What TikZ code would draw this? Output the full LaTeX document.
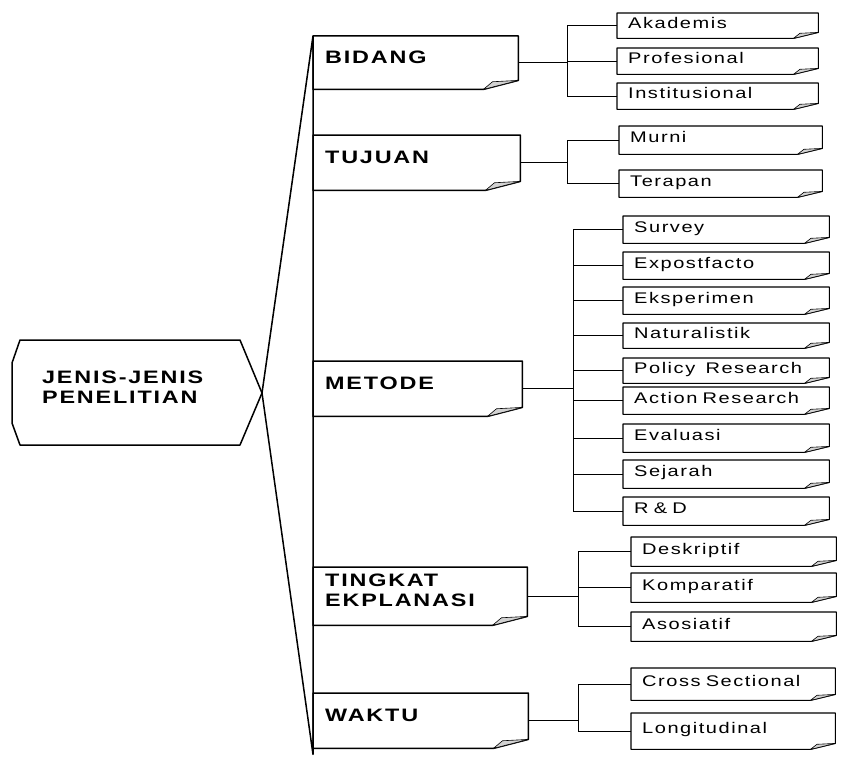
\documentclass[tikz,border=0pt]{standalone}
\usepackage{fontspec}
\newfontfamily\labelsans[FakeStretch=1.3,LetterSpace=10,WordSpace=1.6]{Liberation Sans}
\newcommand{\headfont}{\labelsans\bfseries\fontsize{18}{20}\selectfont}
\newcommand{\itemfont}{\labelsans\fontsize{15.4}{17}\selectfont}
% box with a folded bottom right corner: style, node, fold width, fold height
\newcommand{\foldedbox}[4][]{%
  \draw[#1] (#2.north west) -- (#2.north east) -- ([yshift=#4]#2.south east)
    -- ([xshift=-#3]#2.south east) -- (#2.south west) -- cycle;
  \filldraw[flap] ([yshift=#4]#2.south east) -- ([xshift=-#3]#2.south east)
    -- ([xshift=-0.74*#3,yshift=0.85*#4]#2.south east) -- cycle;
}
\tikzset{
  mainbox/.style={anchor=north west, text width=#1, inner xsep=12pt, inner ysep=0pt,
    align=left, font=\headfont, text height=13pt, text depth=12pt},
  subbox/.style={anchor=north west, text width=#1, inner xsep=11pt, inner ysep=0pt,
    align=left, font=\itemfont, text height=11pt, text depth=6pt},
  boxline/.style={line width=1.5pt, line join=round},
  subline/.style={line width=1.1pt, line join=round},
  link/.style={line width=1pt},
  flap/.style={fill=gray!35, line width=0.6pt, line join=round}
}
\begin{document}
\begin{tikzpicture}[x=1pt, y=-1pt]
\useasboundingbox[fill=white] (0,0) rectangle (845,768);

% root
\coordinate (tip) at (262,393);
\node[anchor=west, font=\headfont, align=left, inner sep=0pt] (jenis) at (42,387) {JENIS-JENIS\\PENELITIAN};
\draw[boxline] (20,340) -- (240,340) -- (tip) -- (240,445) -- (20,445) -- (12,423) -- (12,363) -- cycle;

% main boxes
\node[mainbox=181pt, minimum height=53pt] (bidang) at (313,36) {BIDANG};
\node[mainbox=183pt, minimum height=55pt] (tujuan) at (313,135) {TUJUAN};
\node[mainbox=185pt, minimum height=55pt] (metode) at (313,361) {METODE};
\node[mainbox=190pt, minimum height=58pt, text depth=32pt] (tingkat) at (313,567) {TINGKAT\\EKPLANASI};
\node[mainbox=191pt, minimum height=55pt] (waktu) at (313,693) {WAKTU};
\foreach \nm in {bidang,tujuan,metode,tingkat,waktu} {
  \foldedbox[boxline]{\nm}{35pt}{9pt}
}

% spine
\coordinate (spineend) at ([yshift=-6pt]waktu.south west);
\draw[boxline] (tip) -- (bidang.north west) -- (spineend) -- (tip);

% sub boxes
\foreach \nm/\yy/\hh/\txt in {akademis/13/25/Akademis, profesional/48/26/Profesional,
    institusional/83/26/Institusional}
  \node[subbox=179pt, minimum height=\hh pt] (\nm) at (617,\yy) {\txt};
\foreach \nm/\yy/\hh/\txt in {murni/126/28/Murni, terapan/170/27/Terapan}
  \node[subbox=181pt, minimum height=\hh pt] (\nm) at (619,\yy) {\txt};
\foreach \nm/\yy/\hh/\txt in {survey/216/27/Survey, expostfacto/252/27/Expostfacto,
    eksperimen/287/27/Eksperimen, naturalistik/323/25/Naturalistik,
    policy/358/25/Policy\ \ Research, action/387/27/Action Research,
    evaluasi/424/28/Evaluasi, sejarah/460/28/Sejarah, rnd/497/28/R \& D}
  \node[subbox=184pt, minimum height=\hh pt] (\nm) at (623,\yy) {\txt};
\foreach \nm/\yy/\hh/\txt in {deskriptif/537/29/Deskriptif, komparatif/573/29/Komparatif,
    asosiatif/612/29/Asosiatif}
  \node[subbox=183pt, minimum height=\hh pt] (\nm) at (631,\yy) {\txt};
\foreach \nm/\yy/\hh/\txt in {cross/668/32/Cross Sectional, longitudinal/713/36/Longitudinal}
  \node[subbox=182pt, minimum height=\hh pt] (\nm) at (631,\yy) {\txt};
\foreach \nm in {akademis,profesional,institusional,murni,terapan,survey,expostfacto,
    eksperimen,naturalistik,policy,action,evaluasi,sejarah,rnd,deskriptif,komparatif,
    asosiatif,cross,longitudinal} {
  \foldedbox[subline]{\nm}{25pt}{6pt}
}

% brackets
\foreach \main/\barx/\first/\last/\subs in {bidang/567/akademis/institusional/{akademis,profesional,institusional},
    tujuan/567/murni/terapan/{murni,terapan},
    metode/573/survey/rnd/{survey,expostfacto,eksperimen,naturalistik,policy,action,evaluasi,sejarah,rnd},
    tingkat/578/deskriptif/asosiatif/{deskriptif,komparatif,asosiatif},
    waktu/578/cross/longitudinal/{cross,longitudinal}} {
  \coordinate (bar) at (\barx,0);
  \draw[link] (\main.east) -- (\main.east -| bar);
  \draw[link] (\first.west -| bar) -- (\last.west -| bar);
  \foreach \s in \subs
    \draw[link] (\s.west) -- (\s.west -| bar);
}
\end{tikzpicture}
\end{document}
